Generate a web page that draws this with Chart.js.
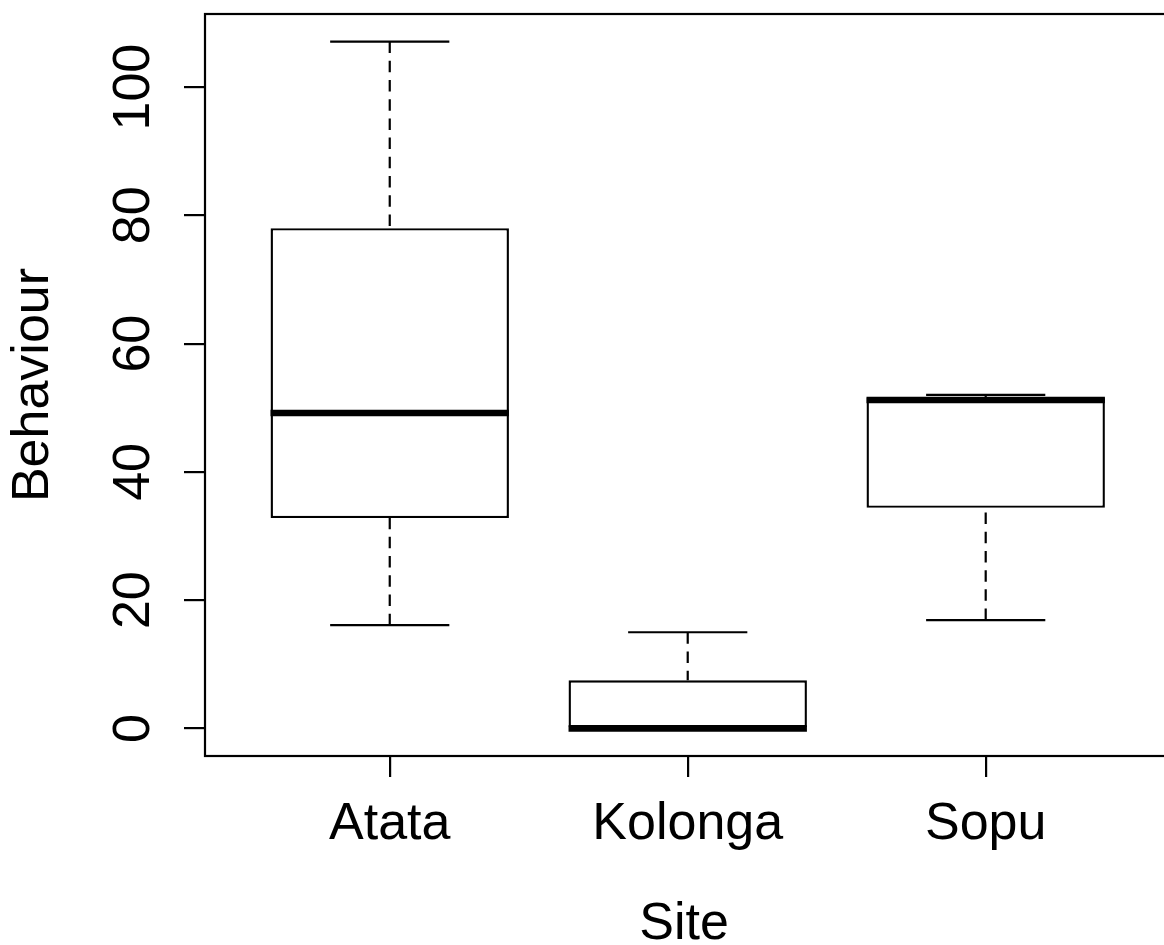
<!DOCTYPE html>
<html>
<head>
<meta charset="utf-8">
<script src="https://cdn.jsdelivr.net/npm/chart.js@4/dist/chart.umd.min.js"></script>
<style>
  html, body { margin: 0; padding: 0; background: #fff; overflow: hidden; }
  canvas { display: block; }
</style>
</head>
<body>
<canvas id="chart" width="1164" height="945"></canvas>
<script>
// five-number summaries
const sites = ['Atata', 'Kolonga', 'Sopu'];
const whiskerLow = [16.1, 0, 16.9];
const lowerQuartile = [32.8, 0, 34.4];
const medians = [49.2, 0, 51.2];
const upperQuartile = [78.0, 7.5, 51.6];
const whiskerHigh = [107.1, 15.0, 52.0];
const yTicks = [0, 20, 40, 60, 80, 100];

const FONT = '"Liberation Sans", Arial, sans-serif';
Chart.defaults.font.family = FONT;
Chart.defaults.color = '#000';

// whiskers, caps, medians and the plot frame, placed with the chart's own scales
const boxplotExtras = {
  id: 'boxplotExtras',
  afterDatasetsDraw(chart) {
    const { ctx, scales: { x, y } } = chart;
    const bars = chart.getDatasetMeta(0).data;
    ctx.save();
    ctx.strokeStyle = '#000';
    ctx.lineCap = 'butt';
    sites.forEach((site, i) => {
      const cx = x.getPixelForValue(i + 1);
      const w = bars[i].width;

      // dashed whiskers
      ctx.lineWidth = 2.2;
      ctx.setLineDash([11.5, 7.7]);
      ctx.beginPath();
      ctx.moveTo(cx, y.getPixelForValue(whiskerHigh[i]));
      ctx.lineTo(cx, y.getPixelForValue(upperQuartile[i]));
      ctx.moveTo(cx, y.getPixelForValue(whiskerLow[i]));
      ctx.lineTo(cx, y.getPixelForValue(lowerQuartile[i]));
      ctx.stroke();

      // caps
      ctx.setLineDash([]);
      ctx.beginPath();
      [whiskerHigh[i], whiskerLow[i]].forEach(v => {
        const py = y.getPixelForValue(v);
        ctx.moveTo(cx - w / 4, py);
        ctx.lineTo(cx + w / 4, py);
      });
      ctx.stroke();

      // median
      ctx.lineWidth = 6.5;
      ctx.beginPath();
      const my = y.getPixelForValue(medians[i]);
      ctx.moveTo(cx - w / 2, my);
      ctx.lineTo(cx + w / 2, my);
      ctx.stroke();
    });
    ctx.restore();
  },
  afterDraw(chart) {
    const { ctx, chartArea: a, scales: { x, y } } = chart;
    ctx.save();
    // frame (right side falls just outside the canvas, as in the original)
    ctx.strokeStyle = '#000';
    ctx.lineWidth = 2.2;
    ctx.strokeRect(a.left, a.top, x.getPixelForValue(3.62) - a.left, a.bottom - a.top);

    // rotated y tick labels
    ctx.fillStyle = '#000';
    ctx.font = '52px ' + FONT;
    ctx.textAlign = 'center';
    ctx.textBaseline = 'alphabetic';
    yTicks.forEach(v => {
      ctx.save();
      ctx.translate(149, y.getPixelForValue(v));
      ctx.rotate(-Math.PI / 2);
      ctx.fillText(String(v), 0, 0);
      ctx.restore();
    });
    ctx.restore();
  }
};

new Chart(document.getElementById('chart'), {
  type: 'bar',
  data: {
    datasets: [{
      label: 'Behaviour',
      data: sites.map((s, i) => ({ x: i + 1, y: [lowerQuartile[i], upperQuartile[i]] })),
      backgroundColor: '#fff',
      borderColor: '#000',
      borderWidth: 2.4,
      borderSkipped: false,
      barPercentage: 0.8,
      categoryPercentage: 1
    }]
  },
  options: {
    responsive: false,
    animation: false,
    layout: { padding: { top: 14, right: 1, bottom: 0, left: 0 } },
    plugins: {
      legend: { display: false },
      tooltip: { enabled: false }
    },
    scales: {
      x: {
        type: 'linear',
        offset: false,
        min: 0.38,
        max: 3.595,
        afterBuildTicks: s => { s.ticks = sites.map((_, i) => ({ value: i + 1 })); },
        afterFit: s => { s.height = 189; },
        ticks: {
          callback: (v, i) => sites[i],
          font: { size: 52 },
          padding: 16,
          maxRotation: 0,
          autoSkip: false
        },
        grid: {
          offset: false,
          drawOnChartArea: false,
          drawTicks: true,
          tickLength: 21,
          color: '#000',
          lineWidth: 2.2
        },
        border: { display: false },
        title: {
          display: true,
          text: 'Site',
          font: { size: 52, lineHeight: 0.8 },
          padding: 0
        }
      },
      y: {
        min: -4.3,
        max: 111.4,
        afterBuildTicks: s => { s.ticks = yTicks.map(v => ({ value: v })); },
        afterFit: s => { s.width = 205; },
        ticks: { display: false },
        grid: {
          drawOnChartArea: false,
          drawTicks: true,
          tickLength: 21,
          color: '#000',
          lineWidth: 2.2
        },
        border: { display: false },
        title: {
          display: true,
          text: 'Behaviour',
          font: { size: 52, lineHeight: 0.8 },
          padding: { top: 13, bottom: 0 }
        }
      }
    }
  },
  plugins: [boxplotExtras]
});
</script>
</body>
</html>
